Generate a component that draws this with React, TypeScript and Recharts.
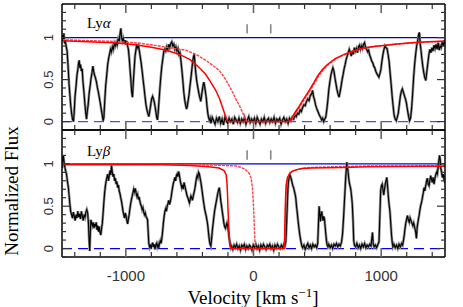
import React from "react";
import { LineChart, Line, XAxis, YAxis, ReferenceLine } from "recharts";

// velocity axis (km/s) and flux axis
const VEL_DOMAIN = [-1500, 1500];
const VEL_TICKS = [-1400, -1200, -1000, -800, -600, -400, -200, 0, 200, 400, 600, 800, 1000, 1200, 1400];
const VEL_MAJOR = [-1000, 0, 1000];
const FLUX_DOMAIN = [-0.1, 1.4];
const FLUX_TICKS = [-0.1, 0, 0.1, 0.2, 0.3, 0.4, 0.5, 0.6, 0.7, 0.8, 0.9, 1, 1.1, 1.2, 1.3];
const FLUX_MAJOR = [0, 0.5, 1];
const MARKER_VELS = [-50, 135];

const continuum = [[-1500, 1], [1500, 1]];
const zeroLevel = [[-1500, 0], [1500, 0]];

// Ly-alpha observed spectrum [velocity, flux]
const lyaSpec = [
  [-1500, 0.97], [-1495, 1.03], [-1490, 0.98], [-1485, 1.05], [-1480, 0.93], [-1475, 0.97], [-1470, 0.92], [-1465, 0.88],
  [-1460, 0.84], [-1455, 0.72], [-1450, 0.6], [-1445, 0.45], [-1440, 0.35], [-1432, 0.2], [-1425, 0.1], [-1418, 0.03],
  [-1410, 0.0], [-1404, 0.12], [-1398, 0.3], [-1390, 0.42], [-1383, 0.55], [-1376, 0.62], [-1370, 0.7], [-1365, 0.73],
  [-1360, 0.64], [-1355, 0.68], [-1348, 0.6], [-1342, 0.63], [-1336, 0.48], [-1328, 0.35], [-1320, 0.2], [-1314, 0.1],
  [-1308, 0.03], [-1302, 0.12], [-1295, 0.2], [-1288, 0.33], [-1280, 0.42], [-1272, 0.52], [-1265, 0.58], [-1258, 0.66],
  [-1252, 0.6], [-1246, 0.56], [-1238, 0.52], [-1230, 0.47], [-1222, 0.4], [-1215, 0.35], [-1207, 0.28], [-1200, 0.22],
  [-1192, 0.14], [-1185, 0.08], [-1178, 0.01], [-1172, 0.05], [-1165, 0.25], [-1158, 0.42], [-1150, 0.55], [-1142, 0.68],
  [-1135, 0.75], [-1128, 0.8], [-1120, 0.86], [-1113, 0.83], [-1105, 0.89], [-1098, 0.86], [-1090, 0.93], [-1083, 0.9],
  [-1075, 0.94], [-1068, 0.91], [-1060, 0.98], [-1052, 0.95], [-1045, 1.05], [-1039, 1.11], [-1033, 1.0], [-1027, 0.96],
  [-1020, 0.99], [-1013, 0.93], [-1006, 0.97], [-1000, 0.92], [-993, 0.96], [-986, 0.9], [-980, 0.86], [-973, 0.75],
  [-966, 0.6], [-960, 0.48], [-954, 0.35], [-948, 0.29], [-942, 0.45], [-935, 0.62], [-928, 0.78], [-921, 0.85],
  [-914, 0.92], [-908, 0.88], [-901, 0.9], [-894, 0.84], [-887, 0.77], [-880, 0.7], [-872, 0.6], [-865, 0.5],
  [-857, 0.4], [-850, 0.3], [-842, 0.2], [-835, 0.14], [-828, 0.1], [-820, 0.06], [-813, 0.12], [-805, 0.2],
  [-798, 0.27], [-790, 0.3], [-784, 0.27], [-778, 0.24], [-771, 0.18], [-765, 0.12], [-758, 0.05], [-752, 0.02],
  [-746, 0.12], [-740, 0.25], [-732, 0.42], [-725, 0.55], [-718, 0.66], [-710, 0.75], [-703, 0.83], [-696, 0.86],
  [-688, 0.84], [-680, 0.89], [-672, 0.86], [-664, 0.92], [-656, 0.88], [-648, 0.93], [-640, 0.95], [-632, 0.9],
  [-624, 0.92], [-616, 0.86], [-608, 0.89], [-600, 0.84], [-592, 0.87], [-584, 0.8], [-576, 0.82], [-568, 0.72],
  [-560, 0.6], [-553, 0.48], [-546, 0.35], [-539, 0.26], [-532, 0.2], [-525, 0.15], [-519, 0.18], [-512, 0.25],
  [-505, 0.32], [-498, 0.42], [-490, 0.52], [-483, 0.62], [-476, 0.72], [-470, 0.77], [-464, 0.8], [-458, 0.68],
  [-452, 0.58], [-446, 0.5], [-440, 0.44], [-433, 0.38], [-426, 0.32], [-419, 0.28], [-413, 0.24], [-406, 0.32],
  [-400, 0.38], [-394, 0.44], [-389, 0.47], [-383, 0.42], [-377, 0.36], [-370, 0.28], [-364, 0.18], [-358, 0.1],
  [-352, 0.05], [-346, 0.02], [-340, 0.04], [-334, -0.02], [-323, 0.05], [-312, 0.01], [-301, -0.03], [-290, 0.04],
  [-279, 0.0], [-268, 0.06], [-257, -0.02], [-246, 0.03], [-235, -0.04], [-224, 0.05], [-213, 0.01], [-202, -0.02],
  [-191, 0.04], [-180, 0.0], [-169, 0.03], [-158, -0.03], [-147, 0.05], [-136, 0.02], [-125, -0.01], [-114, 0.04],
  [-103, -0.02], [-92, 0.03], [-81, 0.0], [-70, 0.05], [-59, -0.03], [-48, 0.02], [-37, 0.06], [-26, -0.01],
  [-15, 0.03], [-4, 0.0], [7, 0.04], [18, -0.02], [29, 0.05], [40, 0.01], [51, -0.03], [62, 0.03],
  [73, 0.0], [84, 0.05], [95, -0.02], [106, 0.02], [117, 0.04], [128, -0.01], [139, 0.03], [150, 0.0],
  [161, 0.05], [172, -0.02], [183, 0.03], [194, 0.01], [205, 0.04], [216, -0.03], [227, 0.02], [238, 0.05],
  [249, 0.0], [260, 0.03], [271, -0.02], [282, 0.04], [293, 0.01], [304, 0.05], [315, 0.03], [325, 0.08],
  [335, 0.06], [345, 0.1], [355, 0.09], [365, 0.14], [375, 0.12], [385, 0.17], [395, 0.2], [405, 0.19],
  [415, 0.24], [425, 0.27], [435, 0.25], [445, 0.31], [455, 0.33], [463, 0.37], [470, 0.3], [478, 0.26],
  [486, 0.2], [494, 0.16], [502, 0.13], [510, 0.1], [518, 0.07], [526, 0.05], [534, 0.02], [542, 0.04],
  [550, 0.0], [558, 0.03], [566, 0.05], [574, 0.14], [582, 0.25], [590, 0.38], [598, 0.47], [606, 0.55],
  [614, 0.6], [622, 0.64], [630, 0.6], [638, 0.52], [646, 0.45], [654, 0.38], [662, 0.33], [670, 0.29],
  [678, 0.35], [686, 0.42], [694, 0.5], [702, 0.56], [710, 0.63], [718, 0.68], [726, 0.74], [734, 0.78],
  [742, 0.82], [750, 0.86], [758, 0.82], [766, 0.78], [774, 0.84], [782, 0.8], [790, 0.88], [798, 0.84],
  [806, 0.87], [814, 0.82], [822, 0.89], [830, 0.91], [838, 0.86], [846, 0.9], [854, 0.87], [862, 0.92],
  [870, 0.94], [878, 0.88], [886, 0.86], [894, 0.83], [902, 0.85], [910, 0.79], [918, 0.76], [926, 0.72],
  [934, 0.7], [942, 0.66], [950, 0.64], [958, 0.6], [966, 0.57], [974, 0.55], [982, 0.53], [990, 0.57],
  [998, 0.62], [1006, 0.72], [1014, 0.8], [1022, 0.86], [1030, 0.9], [1038, 0.88], [1046, 0.87], [1054, 0.8],
  [1062, 0.72], [1070, 0.58], [1078, 0.45], [1086, 0.3], [1094, 0.18], [1102, 0.07], [1110, 0.03], [1118, 0.01],
  [1126, 0.05], [1134, 0.1], [1142, 0.2], [1150, 0.3], [1158, 0.36], [1166, 0.39], [1174, 0.35], [1182, 0.31],
  [1190, 0.27], [1198, 0.22], [1206, 0.14], [1214, 0.07], [1222, 0.01], [1230, 0.04], [1238, 0.15], [1246, 0.32],
  [1254, 0.52], [1262, 0.68], [1270, 0.8], [1278, 0.9], [1286, 0.96], [1294, 1.04], [1300, 1.06], [1306, 0.92],
  [1312, 0.85], [1318, 0.76], [1326, 0.66], [1334, 0.58], [1342, 0.52], [1350, 0.49], [1358, 0.6], [1366, 0.7],
  [1374, 0.8], [1382, 0.86], [1390, 0.82], [1398, 0.88], [1406, 0.84], [1414, 0.91], [1422, 0.87], [1430, 0.92],
  [1438, 0.86], [1446, 0.94], [1454, 0.85], [1462, 0.9], [1470, 0.88], [1478, 0.95], [1486, 0.9], [1494, 0.96],
  [1500, 0.92],
];

// Ly-alpha model profiles
const lyaModelA = [
  [-1500, 0.962], [-1300, 0.952], [-1100, 0.94], [-1000, 0.928], [-900, 0.91], [-800, 0.885], [-700, 0.855],
  [-620, 0.82], [-560, 0.785], [-500, 0.74], [-452, 0.68], [-410, 0.62], [-374, 0.56], [-335, 0.47], [-295, 0.37],
  [-265, 0.27], [-243, 0.17], [-225, 0.09], [-210, 0.03], [-200, 0.0], [275, 0.0], [290, 0.02], [305, 0.06],
  [330, 0.12], [357, 0.18], [385, 0.25], [410, 0.31], [440, 0.38], [475, 0.47], [501, 0.54], [540, 0.62],
  [579, 0.68], [640, 0.75], [710, 0.8], [780, 0.84], [840, 0.87], [900, 0.885], [971, 0.9], [1040, 0.91],
  [1101, 0.92], [1170, 0.93], [1232, 0.938], [1300, 0.945], [1363, 0.95], [1430, 0.955], [1500, 0.96],
];
const lyaModelB = [
  [-1500, 0.975], [-1300, 0.965], [-1100, 0.955], [-900, 0.935], [-760, 0.905], [-620, 0.87], [-530, 0.85],
  [-450, 0.8], [-374, 0.73], [-320, 0.67], [-269, 0.61], [-230, 0.53], [-191, 0.43], [-160, 0.34], [-139, 0.27],
  [-110, 0.19], [-86, 0.11], [-70, 0.05], [-55, 0.01], [-45, 0.0], [283, 0.0], [298, 0.02], [313, 0.06],
  [338, 0.12], [365, 0.18], [393, 0.25], [418, 0.31], [448, 0.38], [483, 0.47], [509, 0.54], [548, 0.62],
  [587, 0.68], [648, 0.75], [718, 0.8], [788, 0.84], [848, 0.87], [908, 0.885], [979, 0.9], [1048, 0.91],
  [1109, 0.92], [1178, 0.928], [1240, 0.935], [1308, 0.942], [1371, 0.948], [1438, 0.953], [1500, 0.958],
];

// Ly-beta observed spectrum [velocity, flux]
const lybSpec = [
  [-1500, 0.95], [-1495, 1.02], [-1490, 1.1], [-1485, 1.04], [-1480, 0.98], [-1472, 0.92], [-1465, 0.88], [-1458, 0.8],
  [-1450, 0.72], [-1444, 0.62], [-1438, 0.52], [-1432, 0.44], [-1425, 0.4], [-1418, 0.36], [-1411, 0.43], [-1404, 0.38],
  [-1397, 0.33], [-1390, 0.4], [-1383, 0.36], [-1376, 0.44], [-1369, 0.37], [-1362, 0.41], [-1355, 0.35], [-1348, 0.44],
  [-1341, 0.39], [-1334, 0.33], [-1327, 0.4], [-1320, 0.37], [-1313, 0.43], [-1306, 0.46], [-1299, 0.42], [-1293, 0.3],
  [-1288, 0.12], [-1283, -0.03], [-1279, 0.15], [-1274, 0.34], [-1268, 0.3], [-1262, 0.27], [-1256, 0.31], [-1250, 0.24],
  [-1244, 0.29], [-1238, 0.26], [-1232, 0.31], [-1226, 0.22], [-1220, 0.27], [-1214, 0.2], [-1208, 0.26], [-1202, 0.19],
  [-1196, 0.16], [-1190, 0.24], [-1184, 0.3], [-1178, 0.42], [-1172, 0.55], [-1166, 0.66], [-1160, 0.74], [-1154, 0.8],
  [-1148, 0.84], [-1142, 0.88], [-1136, 0.8], [-1130, 0.86], [-1124, 0.92], [-1118, 0.87], [-1112, 0.98], [-1106, 0.9],
  [-1100, 0.85], [-1094, 0.88], [-1088, 0.8], [-1082, 0.83], [-1076, 0.76], [-1070, 0.79], [-1064, 0.72], [-1058, 0.75],
  [-1052, 0.68], [-1046, 0.65], [-1040, 0.6], [-1034, 0.56], [-1028, 0.5], [-1022, 0.44], [-1016, 0.4], [-1010, 0.36],
  [-1004, 0.42], [-998, 0.38], [-992, 0.33], [-986, 0.29], [-980, 0.35], [-974, 0.4], [-968, 0.47], [-962, 0.53],
  [-956, 0.58], [-950, 0.62], [-944, 0.66], [-938, 0.7], [-932, 0.67], [-926, 0.71], [-920, 0.66], [-914, 0.62],
  [-908, 0.64], [-902, 0.58], [-896, 0.61], [-890, 0.56], [-884, 0.52], [-878, 0.5], [-872, 0.46], [-866, 0.48],
  [-860, 0.43], [-854, 0.4], [-848, 0.42], [-842, 0.38], [-836, 0.36], [-830, 0.34], [-825, 0.2], [-820, 0.06],
  [-814, 0.02], [-808, 0.05], [-802, 0.0], [-796, 0.04], [-790, 0.07], [-784, 0.02], [-778, 0.05], [-772, -0.01],
  [-766, 0.04], [-760, 0.06], [-754, 0.02], [-748, 0.05], [-742, 0.01], [-736, 0.06], [-730, 0.09], [-724, 0.06],
  [-718, 0.12], [-712, 0.2], [-706, 0.3], [-700, 0.38], [-694, 0.44], [-688, 0.47], [-682, 0.44], [-676, 0.5],
  [-670, 0.53], [-664, 0.57], [-658, 0.52], [-652, 0.55], [-646, 0.6], [-640, 0.66], [-634, 0.72], [-628, 0.77],
  [-622, 0.8], [-616, 0.84], [-610, 0.8], [-604, 0.86], [-598, 0.88], [-592, 0.85], [-586, 0.91], [-580, 0.86],
  [-574, 0.8], [-568, 0.76], [-562, 0.72], [-556, 0.75], [-550, 0.7], [-544, 0.78], [-538, 0.74], [-532, 0.7],
  [-526, 0.66], [-520, 0.62], [-514, 0.6], [-508, 0.57], [-502, 0.54], [-496, 0.58], [-490, 0.62], [-484, 0.6],
  [-478, 0.57], [-472, 0.62], [-466, 0.66], [-460, 0.7], [-454, 0.76], [-448, 0.82], [-442, 0.86], [-436, 0.84],
  [-430, 0.9], [-424, 0.88], [-418, 0.83], [-412, 0.78], [-406, 0.72], [-400, 0.65], [-394, 0.58], [-388, 0.52],
  [-382, 0.46], [-376, 0.42], [-370, 0.38], [-364, 0.33], [-358, 0.27], [-352, 0.18], [-346, 0.1], [-340, 0.05],
  [-334, 0.03], [-328, 0.12], [-322, 0.22], [-316, 0.3], [-310, 0.38], [-304, 0.45], [-298, 0.5], [-292, 0.55],
  [-286, 0.6], [-280, 0.65], [-274, 0.69], [-268, 0.72], [-262, 0.65], [-256, 0.56], [-250, 0.5], [-244, 0.43],
  [-238, 0.37], [-232, 0.3], [-226, 0.26], [-220, 0.24], [-214, 0.27], [-208, 0.3], [-202, 0.26], [-196, 0.2],
  [-190, 0.12], [-184, 0.06], [-178, 0.01], [-172, 0.03], [-162, -0.01], [-152, 0.04], [-142, 0.01], [-132, 0.05],
  [-122, 0.0], [-112, 0.03], [-102, -0.02], [-92, 0.04], [-82, 0.02], [-72, 0.05], [-62, -0.01], [-52, 0.03],
  [-42, 0.0], [-32, 0.04], [-22, 0.02], [-12, -0.02], [-2, 0.04], [8, 0.01], [18, 0.05], [28, 0.0],
  [38, 0.03], [48, -0.02], [58, 0.04], [68, 0.01], [78, 0.05], [88, 0.02], [98, -0.01], [108, 0.04],
  [118, 0.02], [128, 0.05], [138, 0.0], [148, 0.03], [158, -0.02], [168, 0.04], [178, 0.01], [188, 0.05],
  [198, 0.02], [208, 0.0], [218, 0.04], [228, 0.01], [238, 0.05], [246, 0.03], [253, 0.08], [258, 0.25],
  [263, 0.45], [268, 0.65], [273, 0.78], [279, 0.84], [285, 0.87], [290, 0.85], [296, 0.82], [302, 0.78],
  [308, 0.74], [314, 0.72], [320, 0.68], [326, 0.64], [331, 0.6], [337, 0.5], [343, 0.42], [349, 0.33],
  [355, 0.25], [361, 0.18], [367, 0.12], [373, 0.07], [379, 0.03], [385, 0.01], [395, 0.04], [405, -0.01],
  [415, 0.03], [425, 0.06], [435, 0.01], [445, 0.04], [455, 0.0], [465, 0.05], [475, 0.02], [485, 0.04],
  [495, 0.01], [503, 0.06], [509, 0.3], [514, 0.5], [519, 0.42], [524, 0.32], [529, 0.4], [535, 0.44],
  [540, 0.36], [545, 0.33], [550, 0.38], [556, 0.35], [561, 0.26], [566, 0.18], [571, 0.1], [577, 0.04],
  [583, 0.02], [590, 0.05], [600, 0.01], [610, 0.04], [620, 0.0], [630, 0.05], [640, 0.03], [650, 0.06],
  [660, 0.02], [670, 0.05], [680, 0.03], [690, 0.08], [698, 0.18], [705, 0.35], [712, 0.55], [718, 0.72],
  [723, 0.86], [728, 0.95], [731, 1.02], [735, 0.96], [740, 0.92], [745, 0.84], [750, 0.78], [756, 0.74],
  [762, 0.7], [768, 0.62], [774, 0.52], [780, 0.32], [785, 0.1], [790, 0.04], [800, 0.02], [810, 0.06],
  [820, 0.01], [830, 0.04], [840, 0.0], [850, 0.05], [860, 0.02], [870, 0.06], [880, 0.01], [890, 0.04],
  [900, 0.02], [910, 0.05], [920, 0.03], [927, 0.12], [932, 0.19], [937, 0.06], [945, 0.02], [955, 0.04],
  [965, 0.01], [975, 0.05], [983, 0.08], [990, 0.4], [996, 0.68], [1002, 0.74], [1008, 0.76], [1014, 0.7],
  [1020, 0.63], [1026, 0.7], [1032, 0.76], [1038, 0.8], [1044, 0.84], [1050, 0.74], [1056, 0.62], [1062, 0.52],
  [1068, 0.45], [1074, 0.32], [1080, 0.18], [1086, 0.08], [1092, 0.02], [1100, 0.05], [1110, 0.01], [1120, 0.04],
  [1130, 0.0], [1140, 0.05], [1150, 0.02], [1160, 0.06], [1168, 0.04], [1175, 0.1], [1181, 0.16], [1187, 0.24],
  [1193, 0.3], [1200, 0.35], [1206, 0.39], [1213, 0.34], [1220, 0.31], [1227, 0.36], [1234, 0.33], [1241, 0.3],
  [1248, 0.27], [1255, 0.3], [1262, 0.25], [1270, 0.2], [1276, 0.12], [1282, 0.25], [1290, 0.33], [1297, 0.39],
  [1304, 0.46], [1310, 0.51], [1317, 0.55], [1323, 0.6], [1330, 0.66], [1336, 0.72], [1342, 0.68], [1349, 0.74],
  [1356, 0.8], [1362, 0.83], [1368, 0.76], [1375, 0.74], [1381, 0.8], [1388, 0.86], [1394, 0.82], [1400, 0.78],
  [1407, 0.84], [1414, 0.76], [1420, 0.82], [1427, 0.87], [1434, 0.9], [1440, 0.88], [1446, 0.96], [1452, 1.04],
  [1457, 1.1], [1462, 1.06], [1467, 0.95], [1473, 0.9], [1480, 0.84], [1486, 0.88], [1492, 0.82], [1500, 0.78],
];

// Ly-beta model profiles
const lybModelA = [
  [-1500, 0.99], [-700, 0.99], [-500, 0.98], [-350, 0.965], [-270, 0.95], [-230, 0.92], [-214, 0.87], [-208, 0.78],
  [-204, 0.66], [-200, 0.48], [-196, 0.33], [-191, 0.16], [-186, 0.06], [-181, 0.02], [-176, 0.0], [240, 0.0],
  [244, 0.15], [247, 0.35], [251, 0.6], [256, 0.75], [266, 0.84], [285, 0.89], [305, 0.915], [345, 0.935],
  [384, 0.945], [450, 0.952], [700, 0.958], [890, 0.965], [1100, 0.97], [1500, 0.972],
];
const lybModelB = [
  [-1500, 0.998], [-800, 0.995], [-500, 0.99], [-300, 0.985], [-139, 0.975], [-100, 0.96], [-60, 0.93],
  [-35, 0.89], [-20, 0.84], [-8, 0.72], [0, 0.5], [5, 0.33], [10, 0.12], [14, 0.02], [18, 0.0], [242, 0.0],
  [246, 0.15], [249, 0.35], [253, 0.6], [258, 0.75], [268, 0.84], [287, 0.89], [307, 0.915], [347, 0.935],
  [386, 0.948], [450, 0.958], [600, 0.965], [900, 0.975], [1500, 0.978],
];

const toPoints = (rows: number[][]) => rows.map(([v, f]) => ({ v, f }));

const TICK_COLOR = "#333";
const isMajorFlux = (val: number) => FLUX_MAJOR.some((m) => Math.abs(m - val) < 1e-6);

function makeTick(side: "top" | "bottom" | "left" | "right", withLabels: boolean) {
  return (props: any) => {
    const { x, y, payload } = props;
    const val = payload.value as number;
    if (side === "top" || side === "bottom") {
      const major = VEL_MAJOR.includes(val);
      const len = major ? 9 : 5;
      const dir = side === "top" ? 1 : -1;
      return (
        <g>
          <line x1={x} x2={x} y1={y} y2={y + dir * len} stroke={major ? "#666" : TICK_COLOR} strokeWidth={major ? 1.6 : 1.2} />
          {withLabels && major && (
            <text x={x} y={y + 24} textAnchor="middle" fontSize={15} fontFamily="Liberation Sans" fill="#333">
              {String(val)}
            </text>
          )}
        </g>
      );
    }
    const major = isMajorFlux(val);
    const len = major ? 8 : 4;
    const dir = side === "left" ? 1 : -1;
    return (
      <g>
        <line x1={x} x2={x + dir * len} y1={y} y2={y} stroke={TICK_COLOR} strokeWidth={1.2} />
        {withLabels && major && (
          <text
            x={x - 9}
            y={y}
            transform={`rotate(-90, ${x - 9}, ${y})`}
            textAnchor="middle"
            fontSize={13}
            fontFamily="Liberation Sans"
            fill="#333"
          >
            {String(val)}
          </text>
        )}
      </g>
    );
  };
}

const axisLine = { stroke: "#000", strokeWidth: 1.5 };

interface PanelProps {
  spectrum: number[][];
  modelA: number[][];
  modelB: number[][];
  height: number;
  topAxisH: number;
  bottomAxisH: number;
  xLabels: boolean;
  continuumColor: string;
  zeroColor: string;
}

function Panel({ spectrum, modelA, modelB, height, topAxisH, bottomAxisH, xLabels, continuumColor, zeroColor }: PanelProps) {
  const spec = toPoints(spectrum);
  return (
    <LineChart width={463} height={height} margin={{ top: 0, right: 0, bottom: 0, left: 0 }}>
      <XAxis
        xAxisId="t"
        orientation="top"
        type="number"
        dataKey="v"
        domain={VEL_DOMAIN}
        ticks={VEL_TICKS}
        interval={0}
        height={topAxisH}
        tickSize={0}
        tickMargin={0}
        tickLine={false}
        axisLine={axisLine}
        tick={makeTick("top", false)}
        allowDataOverflow
      />
      <XAxis
        xAxisId="b"
        orientation="bottom"
        type="number"
        dataKey="v"
        domain={VEL_DOMAIN}
        ticks={VEL_TICKS}
        interval={0}
        height={bottomAxisH}
        tickSize={0}
        tickMargin={0}
        tickLine={false}
        axisLine={axisLine}
        tick={makeTick("bottom", xLabels)}
        allowDataOverflow
      />
      <YAxis
        yAxisId="l"
        orientation="left"
        type="number"
        width={62}
        domain={FLUX_DOMAIN}
        ticks={FLUX_TICKS}
        interval={0}
        tickSize={0}
        tickMargin={0}
        tickLine={false}
        axisLine={axisLine}
        tick={makeTick("left", true)}
        allowDataOverflow
      />
      <YAxis
        yAxisId="r"
        orientation="right"
        type="number"
        width={18}
        domain={FLUX_DOMAIN}
        ticks={FLUX_TICKS}
        interval={0}
        tickSize={0}
        tickMargin={0}
        tickLine={false}
        axisLine={axisLine}
        tick={makeTick("right", false)}
        allowDataOverflow
      />
      <Line xAxisId="b" yAxisId="l" data={toPoints(continuum)} dataKey="f" stroke={continuumColor} strokeWidth={1.2} dot={false} isAnimationActive={false} />
      <Line xAxisId="b" yAxisId="l" data={toPoints(zeroLevel)} dataKey="f" stroke={zeroColor} strokeWidth={1.2} strokeDasharray="10 6" dot={false} isAnimationActive={false} />
      <Line xAxisId="b" yAxisId="l" data={spec} dataKey="f" stroke="#8c8c8c" strokeWidth={2.6} dot={false} isAnimationActive={false} />
      <Line xAxisId="b" yAxisId="l" data={spec} dataKey="f" stroke="#000" strokeWidth={1.1} dot={false} isAnimationActive={false} />
      <Line xAxisId="b" yAxisId="l" data={toPoints(modelB)} dataKey="f" stroke="#ff4040" strokeWidth={1.4} strokeDasharray="3 1" dot={false} isAnimationActive={false} />
      <Line xAxisId="b" yAxisId="l" data={toPoints(modelA)} dataKey="f" stroke="#ff0000" strokeWidth={1.5} dot={false} isAnimationActive={false} />
      {MARKER_VELS.map((mv) => (
        <ReferenceLine
          key={mv}
          xAxisId="b"
          yAxisId="l"
          segment={[{ x: mv, y: 1.05 }, { x: mv, y: 1.16 }]}
          stroke="#888"
          strokeWidth={1.6}
        />
      ))}
    </LineChart>
  );
}

export default function App() {
  return (
    <div style={{ position: "relative", width: 463, height: 307, background: "#fff", overflow: "hidden" }}>
      <style>{"body{margin:0}"}</style>
      <div style={{ position: "absolute", left: 0, top: 0 }}>
        <Panel
          spectrum={lyaSpec}
          modelA={lyaModelA}
          modelB={lyaModelB}
          height={132}
          topAxisH={4}
          bottomAxisH={2}
          xLabels={false}
          continuumColor="#0000cc"
          zeroColor="#4a4aff"
        />
      </div>
      <div style={{ position: "absolute", left: 0, top: 128 }}>
        <Panel
          spectrum={lybSpec}
          modelA={lybModelA}
          modelB={lybModelB}
          height={179}
          topAxisH={2}
          bottomAxisH={50}
          xLabels={true}
          continuumColor="#0000dd"
          zeroColor="#0000ee"
        />
      </div>
      <svg width={463} height={307} style={{ position: "absolute", left: 0, top: 0, pointerEvents: "none" }}>
        <text x={87} y={28} fontSize={15} fontFamily="Liberation Serif" fill="#000">
          Ly<tspan fontStyle="italic">α</tspan>
        </text>
        <text x={87} y={156} fontSize={15} fontFamily="Liberation Serif" fill="#000">
          Ly<tspan fontStyle="italic">β</tspan>
        </text>
        <text x={253} y={303.5} textAnchor="middle" fontSize={19} fontFamily="Liberation Serif" fill="#000">
          Velocity [km s<tspan dy={-7} fontSize={13}>−1</tspan>
          <tspan dy={7}>]</tspan>
        </text>
        <text transform="translate(17.5,191) rotate(-90)" textAnchor="middle" fontSize={19} fontFamily="Liberation Serif" fill="#000">
          Normalized Flux
        </text>
      </svg>
    </div>
  );
}
